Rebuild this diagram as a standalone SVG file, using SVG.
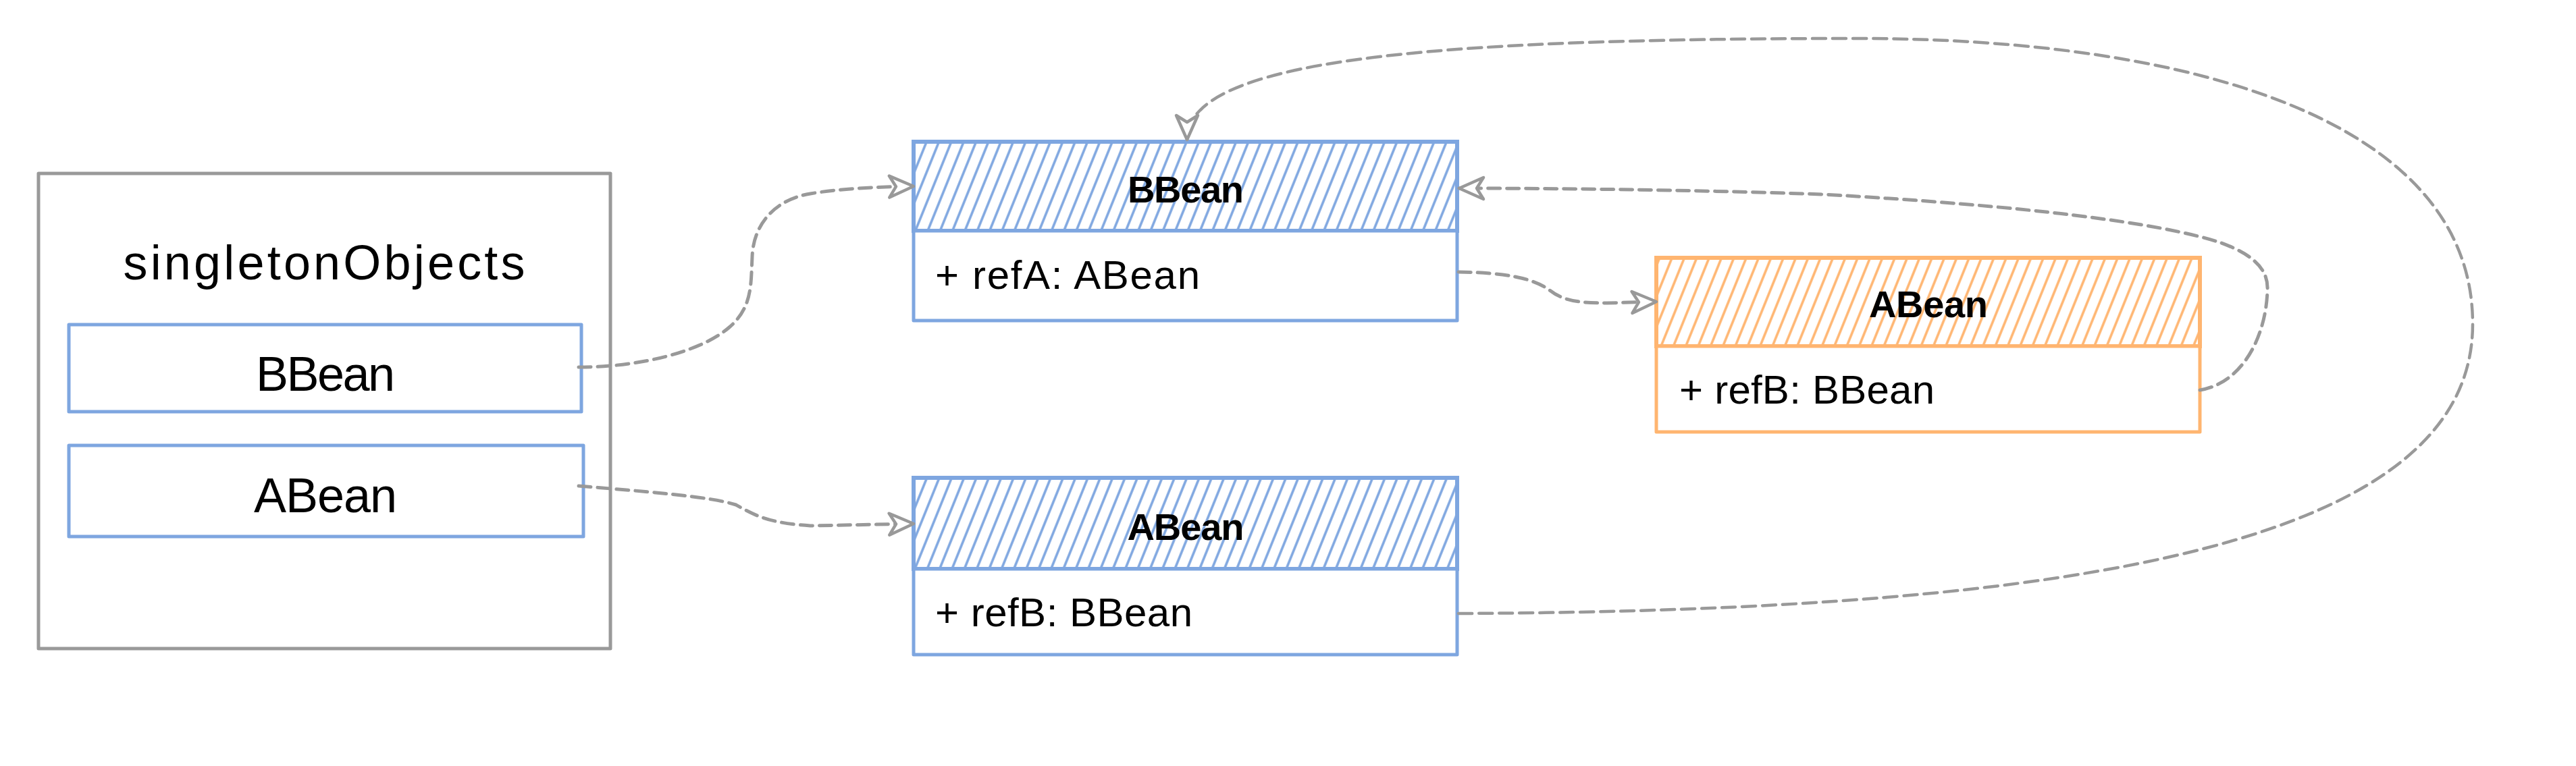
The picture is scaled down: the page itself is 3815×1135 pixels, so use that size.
<svg xmlns="http://www.w3.org/2000/svg" width="3815" height="1135" viewBox="0 0 3815 1135">
<style>
.gbox{fill:#ffffff;stroke:#999999;stroke-width:5;stroke-linejoin:round}
.bbox{fill:#ffffff;stroke:#7EA6E0;stroke-width:5;stroke-linejoin:round}
.obox{fill:#ffffff;stroke:#FFB570;stroke-width:5;stroke-linejoin:round}
.bhead{fill:url(#hb);stroke:#7EA6E0;stroke-width:6}
.ohead{fill:url(#ho);stroke:#FFB570;stroke-width:6}
.big{font-family:"Liberation Sans",Arial,sans-serif;font-size:72px;fill:#000000}
.ttl{font-family:"Liberation Sans",Arial,sans-serif;font-size:56px;font-weight:bold;fill:#000000}
.fld{font-family:"Liberation Sans",Arial,sans-serif;font-size:60px;fill:#000000}
.conn{fill:none;stroke:#999999;stroke-width:5;stroke-dasharray:18 10;stroke-linecap:round;marker-end:url(#arr)}
.conn2{fill:none;stroke:#999999;stroke-width:4.5;stroke-dasharray:20 10;stroke-linecap:round;marker-end:url(#arr)}
</style>
<defs>
<pattern id="hb" patternUnits="userSpaceOnUse" width="17" height="60" patternTransform="rotate(22)">
<rect width="17" height="60" fill="#ffffff"/>
<line x1="8" y1="-5" x2="8" y2="65" stroke="#7EA6E0" stroke-width="3.5"/>
</pattern>
<pattern id="ho" patternUnits="userSpaceOnUse" width="17" height="60" patternTransform="rotate(22)">
<rect width="17" height="60" fill="#ffffff"/>
<line x1="8" y1="-5" x2="8" y2="65" stroke="#FFB570" stroke-width="3.5"/>
</pattern>
<marker id="arr" viewBox="0 0 44 40" refX="40" refY="20" markerWidth="44" markerHeight="40" markerUnits="userSpaceOnUse" orient="auto">
<path d="M4,4 L40,20 L4,36 L14,20 Z" fill="#ffffff" stroke="#999999" stroke-width="4.5" stroke-linejoin="round"/>
</marker>
</defs>
<rect width="3815" height="1135" fill="#ffffff"/>

<g id="singletonObjects">
<rect class="gbox" x="57" y="257" width="847" height="704"/>
<text class="big" x="480" y="414" text-anchor="middle" textLength="595" lengthAdjust="spacing">singletonObjects</text>
</g>
<g id="so-bbean">
<rect class="bbox" x="102" y="481" width="759" height="129"/>
<text class="big" x="482" y="579" text-anchor="middle" textLength="206" lengthAdjust="spacing">BBean</text>
</g>
<g id="so-abean">
<rect class="bbox" x="102" y="660" width="762" height="135"/>
<text class="big" x="482" y="759" text-anchor="middle" textLength="212" lengthAdjust="spacing">ABean</text>
</g>

<g id="class-bbean">
<rect class="bhead" x="1353" y="210" width="805" height="132"/>
<rect class="bbox" x="1353" y="342" width="805" height="133"/>
<text class="ttl" x="1756" y="300" text-anchor="middle" textLength="172" lengthAdjust="spacing">BBean</text>
<text class="fld" x="1385" y="428" textLength="392" lengthAdjust="spacing">+ refA: ABean</text>
</g>
<g id="class-abean">
<rect class="bhead" x="1353" y="708" width="805" height="135"/>
<rect class="bbox" x="1353" y="843" width="805" height="127"/>
<text class="ttl" x="1756" y="800" text-anchor="middle" textLength="173" lengthAdjust="spacing">ABean</text>
<text class="fld" x="1385" y="928" textLength="381" lengthAdjust="spacing">+ refB: BBean</text>
</g>
<g id="class-abean-early">
<rect class="ohead" x="2453" y="382" width="805" height="131"/>
<rect class="obox" x="2453" y="513" width="805" height="127"/>
<text class="ttl" x="2856" y="470" text-anchor="middle" textLength="176" lengthAdjust="spacing">ABean</text>
<text class="fld" x="2487" y="598" textLength="378" lengthAdjust="spacing">+ refB: BBean</text>
</g>

<g id="connectors">
<path class="conn" d="M857,544 C950,544 1040,520 1080,485 C1115,455 1112,420 1114,380 C1116,330 1150,295 1200,287 C1240,280 1290,277 1353,276"/>
<path class="conn" d="M857,720 C950,728 1050,735 1090,748 C1120,765 1140,775 1200,779 L1353,776"/>
<path class="conn" d="M2160,403 C2230,404 2270,412 2295,430 C2315,446 2340,449 2380,449 L2453,447"/>
<path class="conn" d="M3258,578 C3320,568 3356,500 3358,430 C3360,395 3330,375 3290,360 C3200,330 3000,305 2700,288 C2500,281 2300,279 2161,279"/>
<path class="conn2" d="M2160,909 C3100,905 3662,800 3662,480 C3662,180 3250,57 2750,57 C2100,57 1758,90 1758,207"/>
</g>
</svg>
